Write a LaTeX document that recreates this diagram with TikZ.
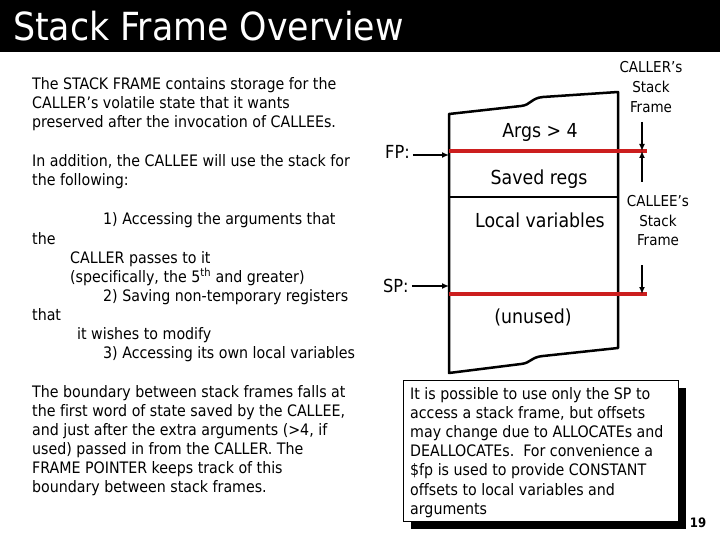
\documentclass[tikz,border=0pt]{standalone}
\usepackage{fontspec}
\setmainfont[Ligatures=NoCommon]{DejaVu Sans Condensed}
\usetikzlibrary{arrows.meta,shadows}
\definecolor{fpred}{RGB}{204,30,30}
\begin{document}
\begin{tikzpicture}[x=1pt,y=-1pt,
  body/.style={anchor=base west, inner sep=0pt, font=\fontsize{15.8}{19}\selectfont},
  lbl/.style={anchor=base, inner sep=0pt, font=\fontsize{19.3}{22}\selectfont},
  side/.style={anchor=base, inner sep=0pt, font=\fontsize{15}{18}\selectfont},
  ptr/.style={anchor=base west, inner sep=0pt, font=\fontsize{18}{20}\selectfont},
  arr/.style={line width=1.5pt, -{Latex[length=7pt,width=6pt]}},
  redline/.style={draw=fpred, line width=4pt},
  stackbox/.style={line width=2.5pt, line join=round}]
\useasboundingbox (0,0) rectangle (720,540);
% title bar
\fill[black] (0,0) rectangle (720,52);
\node[anchor=base west, inner sep=0pt, text=white, font=\fontsize{38.7}{44}\selectfont] (title) at (13,41) {Stack Frame Overview};

% left text
\node[body] (a1) at (32,90) {The STACK FRAME contains storage for the};
\node[body] (a2) at (32,109) {CALLER’s volatile state that it wants};
\node[body] (a3) at (32,128) {preserved after the invocation of CALLEEs.};
\node[body] (b1) at (32,167) {In addition, the CALLEE will use the stack for};
\node[body] (b2) at (32,186) {the following:};
\node[body] (c1) at (103,225) {1) Accessing the arguments that};
\node[body] (c2) at (32,244) {the};
\node[body] (c3) at (70,263) {CALLER passes to it};
\node[body] (c4) at (70,282) {(specifically, the 5\textsuperscript{th} and greater)};
\node[body] (c5) at (103,301) {2) Saving non-temporary registers};
\node[body] (c6) at (32,320) {that};
\node[body] (c7) at (77,339) {it wishes to modify};
\node[body] (c8) at (103,358) {3) Accessing its own local variables};
\node[body] (d1) at (32,397) {The boundary between stack frames falls at};
\node[body] (d2) at (32,416) {the first word of state saved by the CALLEE,};
\node[body] (d3) at (32,435) {and just after the extra arguments (>4, if};
\node[body] (d4) at (32,454) {used) passed in from the CALLER. The};
\node[body] (d5) at (32,473) {FRAME POINTER keeps track of this};
\node[body] (d6) at (32,492) {boundary between stack frames.};

% stack box
\draw[stackbox] (449,114) -- (449,373) -- (521,364) .. controls (531,363) and (531,357) .. (543,356) -- (618,348)
  -- (618,92) -- (543,97) .. controls (531,98) and (531,105) .. (521,106) -- cycle;
\coordinate (sepL) at (449,197);
\coordinate (sepR) at (618,197);
\draw[line width=2.5pt] (sepL) -- (sepR);

\node[lbl] (args) at (540,138) {Args > 4};
\node[lbl] (saved) at (539,185) {Saved regs};
\node[lbl] (locals) at (540,227) {Local variables};
\node[lbl] (unused) at (533,323) {(unused)};

% red boundary lines
\coordinate (fpL) at (449,151);
\coordinate (fpR) at (647,151);
\coordinate (spL) at (449,294);
\coordinate (spR) at (647,294);
\draw[redline] (fpL) -- (fpR);
\draw[redline] (spL) -- (spR);

% FP / SP pointers
\node[ptr] (fp) at (385,159) {FP:};
\node[ptr] (sp) at (383,292) {SP:};
\coordinate (fpTip) at (449,155);
\coordinate (spTip) at (449,286);
\draw[arr] (fp.east |- fpTip) ++(3,0) -- (fpTip);
\draw[arr] (sp.east |- spTip) ++(3,0) -- (spTip);

% side labels
\node[side] (caller1) at (651,73) {CALLER’s};
\node[side] (caller2) at (651,93) {Stack};
\node[side] (caller3) at (651,113) {Frame};
\node[side] (callee1) at (658,207) {CALLEE’s};
\node[side] (callee2) at (658,226) {Stack};
\node[side] (callee3) at (658,245) {Frame};

\coordinate (v1s) at (642,122);
\coordinate (v1e) at (642,151);
\coordinate (v2s) at (642,182);
\coordinate (v3s) at (642,265);
\coordinate (v3e) at (642,294);
\draw[arr] (v1s) -- (v1e);
\draw[arr] (v2s) -- (v1e);
\draw[arr] (v3s) -- (v3e);

% callout box
\node[draw, fill=white, line width=1pt, anchor=north west, minimum width=275pt, minimum height=141pt, inner sep=0pt,
  drop shadow={shadow xshift=7pt, shadow yshift=-7pt, fill=black, opacity=1}] (callout) at (403,380) {};
\node[body] (e1) at (410,399) {It is possible to use only the SP to};
\node[body] (e2) at (410,418) {access a stack frame, but offsets};
\node[body] (e3) at (410,437) {may change due to ALLOCATEs and};
\node[body] (e4) at (410,456) {DEALLOCATEs.\ \ For convenience a};
\node[body] (e5) at (410,475) {\$fp is used to provide CONSTANT};
\node[body] (e6) at (410,495) {offsets to local variables and};
\node[body] (e7) at (410,514) {arguments};

\node[anchor=base, inner sep=0pt, font=\bfseries\fontsize{13}{15}\selectfont] (page) at (698,527) {19};
\end{tikzpicture}
\end{document}
